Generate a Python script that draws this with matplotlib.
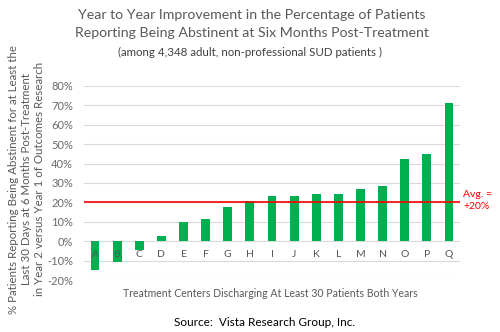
import matplotlib
matplotlib.use("Agg")
import matplotlib.pyplot as plt

centers = list("ABCDEFGHIJKLMNOPQ")
improvement = [-15.0, -10.9, -4.3, 2.8, 9.7, 11.6, 17.4, 20.9, 23.1, 23.4,
               24.3, 24.3, 27.0, 28.7, 42.2, 44.8, 71.3]
average = 20
y_ticks = [-20, -10, 0, 10, 20, 30, 40, 50, 60, 70, 80]

plt.rcParams['font.family'] = ['Lato', 'DejaVu Sans']
gray = '#595959'
tick_gray = '#6A6A6A'
green = '#00B050'
red = '#FF0000'

fig = plt.figure(figsize=(5, 3.32), dpi=100)
ax = fig.add_axes([0.168, 0.1566, 0.752, 0.5844])

# category labels sit on the zero line, so move the spine first
ax.spines['bottom'].set_position(('data', 0))
for s in ax.spines.values():
    s.set_visible(False)

x = list(range(len(centers)))
ax.bar(x, improvement, width=0.4, color=green, zorder=3)
ax.axhline(average, color=red, linewidth=1.2, zorder=4)

ax.set_xlim(-0.5, len(centers) - 0.5)
ax.set_ylim(-20, 80)
ax.set_yticks(y_ticks)
ax.set_yticklabels([f"{v}%" for v in y_ticks])
ax.yaxis.grid(True, color='#D9D9D9', linewidth=0.8, zorder=0)
ax.tick_params(axis='y', length=0, pad=8, labelsize=8, labelcolor=tick_gray)

ax.set_xticks(x)
ax.set_xticklabels(centers)
ax.tick_params(axis='x', length=0, pad=6, labelsize=7.5, labelcolor='#555555')
ax.xaxis.set_zorder(5)

ax.text(1.008, 0.41, "Avg. =\n+20%", transform=ax.transAxes, color=red,
        fontsize=7.5, va='center', ha='left', linespacing=1.4)

fig.text(0.503, 0.955, "Year to Year Improvement in the Percentage of Patients",
         ha='center', va='center', fontsize=10.2, color=gray)
fig.text(0.503, 0.9, "Reporting Being Abstinent at Six Months Post-Treatment",
         ha='center', va='center', fontsize=10.2, color=gray)
fig.text(0.5, 0.843, "(among 4,348 adult, non-professional SUD patients )",
         ha='center', va='center', fontsize=8.3, color='#404040')

fig.text(0.053, 0.46,
         "% Patients Reporting Being Abstinent for at Least the\n"
         "Last 30 Days at 6 Months Post-Treatment\n"
         "in Year 2 versus Year 1 of Outcomes Research",
         rotation=90, ha='center', va='center', fontsize=8.3, color=gray,
         linespacing=1.2)

fig.text(0.54, 0.115, "Treatment Centers Discharging At Least 30 Patients Both Years",
         ha='center', va='center', fontsize=7.6, color=gray)
fig.text(0.53, 0.03, "Source:  Vista Research Group, Inc.",
         ha='center', va='center', fontsize=8.5, color='#000000')

fig.savefig("out.png", dpi=100)
